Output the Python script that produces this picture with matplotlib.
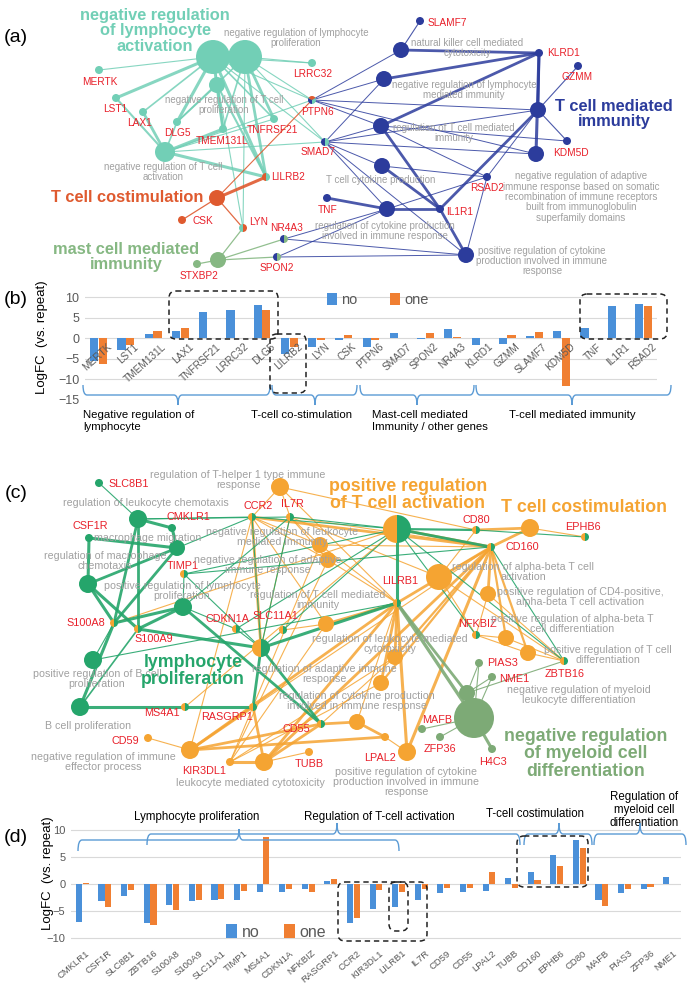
import matplotlib.pyplot as plt
from matplotlib.patches import Circle, Wedge, FancyBboxPatch, PathPatch
from matplotlib.path import Path

plt.rcParams['font.family'] = ['Liberation Sans', 'DejaVu Sans']

W, H = 688, 985

# ---------------- bar data ----------------
genes_b = ["MERTK", "LST1", "TMEM131L", "LAX1", "TNFRSF21", "LRRC32", "DLG5",
           "LILRB2", "LYN", "CSK", "PTPN6", "SMAD7", "SPON2", "NR4A3", "KLRD1",
           "GZMM", "SLAMF7", "KDM5D", "TNF", "IL1R1", "RSAD2"]
no_b = [-5.5, -2.8, 1.1, 1.7, 6.3, 6.9, 8.1, -3.7, -2.2, -0.4, -2.2, 1.4, -0.2,
        2.2, -1.5, -1.4, 0.6, 1.8, 2.6, 7.8, 8.4]
one_b = [-6.2, -1.6, 1.8, 2.5, 0.0, 0.0, 7.0, -2.0, -0.4, 0.9, -0.3, 0.0, 1.3,
         0.4, 0.0, 0.9, 1.6, -11.5, 0.0, 0.0, 7.9]

genes_d = ["CMKLR1", "CSF1R", "SLC8B1", "ZBTB16", "S100A8", "S100A9", "SLC11A1",
           "TIMP1", "MS4A1", "CDKN1A", "NFKBIZ", "RASGRP1", "CCR2", "KIR3DL1",
           "LILRB1", "IL7R", "CD59", "CD55", "LPAL2", "TUBB", "CD160", "EPHB6",
           "CD80", "MAFB", "PIAS3", "ZFP36", "NME1"]
no_d = [-7.0, -3.2, -2.2, -7.35, -3.9, -3.1, -3.05, -2.9, -1.55, -1.5, -0.95,
        0.55, -7.3, -4.7, -4.2, -3.0, -1.6, -1.4, -1.3, 1.05, 2.3, 5.4, 8.15,
        -3.05, -1.75, -1.0, 1.25]
one_d = [0.1, -4.2, -1.2, -7.6, -4.8, -3.0, -2.8, -1.25, 8.7, -1.0, -1.45,
         0.95, -6.35, -1.1, -1.45, -0.95, -0.7, -0.8, 2.3, -0.8, 0.7, 3.3, 6.65,
         -4.05, -0.9, -0.5, -0.05]

groups_b = ["Negative regulation of\nlymphocyte", "T-cell co-stimulation",
            "Mast-cell mediated\nImmunity / other genes", "T-cell mediated immunity"]
groups_d = ["Lymphocyte proliferation", "Regulation of T-cell activation",
            "T-cell costimulation", "Regulation of\nmyeloid cell\ndifferentiation"]

BLUE_BAR = "#4a90d9"
ORANGE_BAR = "#f07f32"
TICK_GREY = "#595959"
GENE_RED = "#e8202a"
TERM_GREY = "#a0a0a0"
BRACE = "#5b9bd5"

TEAL = "#72cfb6"
RED = "#df5a2f"
MASTG = "#86b883"
NAVY = "#2c3c9c"
GREEN = "#25a56b"
ORANGE = "#f5a432"
OLIVE = "#7daa76"

fig = plt.figure(figsize=(W / 100, H / 100), dpi=100)


def px_axes(l, t, r, b, **kw):
    return fig.add_axes([l / W, 1 - b / H, (r - l) / W, (b - t) / H], **kw)


ov = fig.add_axes([0, 0, 1, 1])
ov.set_xlim(0, W)
ov.set_ylim(H, 0)
ov.axis("off")
ov.set_zorder(5)
ov.patch.set_alpha(0)


def draw_nodes(nodes):
    for x, y, r, cols in nodes.values():
        if len(cols) == 1:
            ov.add_patch(Circle((x, y), r, fc=cols[0], ec="none", zorder=3))
        else:
            n = len(cols)
            for k, c in enumerate(cols):
                ov.add_patch(Wedge((x, y), r, 90 + k * 360 / n, 90 + (k + 1) * 360 / n,
                                   fc=c, ec="none", zorder=3))


def draw_edges(nodes, edges, color, alpha=0.9):
    for a, b, w in edges:
        xa, ya = nodes[a][:2]
        xb, yb = nodes[b][:2]
        ov.plot([xa, xb], [ya, yb], color=color, lw=w, alpha=alpha,
                solid_capstyle="round", zorder=2)


def genes(labels, size=7.3):
    for name, (x, y, ha) in labels.items():
        ov.text(x, y, name, color=GENE_RED, fontsize=size, ha=ha, va="center", zorder=4)


def terms(labels, size=7.0):
    for txt, (x, y) in labels.items():
        ov.text(x, y, txt, color=TERM_GREY, fontsize=size, ha="center", va="center",
                linespacing=1.05, zorder=4)


# ---------------- panel (a) network ----------------
nodes_a = {
    "NRLA": (213, 57, 17, [TEAL]), "NRLP": (245, 57, 17, [TEAL]),
    "NRTP": (217, 85, 8, [TEAL]), "NRTA": (165, 152, 10, [TEAL]),
    "MERTK": (99, 70, 4, [TEAL]), "LST1": (116, 98, 4, [TEAL]),
    "LAX1": (143, 112, 4, [TEAL]), "DLG5": (177, 122, 4, [TEAL]),
    "TMEM131L": (223, 129, 4, [TEAL]), "TNFRSF21": (274, 119, 4, [TEAL]),
    "LRRC32": (312, 63, 4, [TEAL]), "PTPN6": (312, 100, 4, [NAVY, RED, TEAL]),
    "SMAD7": (325, 142, 4, [NAVY, TEAL]), "LILRB2": (266, 177, 4, [RED, TEAL]),
    "TCS": (217, 198, 8, [RED]), "CSK": (182, 220, 4, [RED]),
    "LYN": (243, 228, 4, [TEAL, RED]), "MAST": (218, 260, 8, [MASTG]),
    "STXBP2": (197, 264, 4, [MASTG]), "NR4A3": (284, 239, 4, [NAVY, MASTG]),
    "SPON2": (277, 257, 4, [NAVY, MASTG]),
    "SLAMF7": (420, 21, 4, [NAVY]), "NKC": (401, 50, 8, [NAVY]),
    "KLRD1": (539, 53, 4, [NAVY]), "GZMM": (578, 66, 4, [NAVY]),
    "NRLMI": (384, 79, 8, [NAVY]), "TCMI": (538, 110, 8, [NAVY]),
    "RTCMI": (381, 126, 8, [NAVY]), "KDM5D": (567, 141, 4, [NAVY]),
    "NRAIR": (536, 154, 8, [NAVY]), "TCCP": (382, 166, 8, [NAVY]),
    "RSAD2": (487, 177, 4, [NAVY]), "TNF": (327, 198, 4, [NAVY]),
    "RCPI": (387, 209, 8, [NAVY]), "IL1R1": (440, 209, 4, [NAVY]),
    "PRCPI": (466, 255, 8, [NAVY]),
}
teal_edges = [
    ("NRLA", "MERTK", 0.8), ("NRLA", "LST1", 2.2), ("NRLA", "LAX1", 1.2),
    ("NRLA", "DLG5", 2.2), ("NRLA", "TMEM131L", 2.2), ("NRLA", "TNFRSF21", 1.2),
    ("NRLA", "LILRB2", 2.2), ("NRLA", "LRRC32", 0.8), ("NRLA", "PTPN6", 0.8),
    ("NRLA", "SMAD7", 0.8), ("NRLA", "LYN", 0.8),
    ("NRLP", "LRRC32", 0.8), ("NRLP", "PTPN6", 0.8), ("NRLP", "SMAD7", 0.8),
    ("NRLP", "TNFRSF21", 2.0), ("NRLP", "TMEM131L", 1.2), ("NRLP", "LILRB2", 2.0),
    ("NRLP", "LYN", 0.8), ("NRLP", "DLG5", 1.2),
    ("NRTP", "DLG5", 1.2), ("NRTP", "TMEM131L", 1.5), ("NRTP", "LILRB2", 1.5),
    ("NRTA", "LST1", 1.5), ("NRTA", "LAX1", 2.0), ("NRTA", "DLG5", 1.2),
    ("NRTA", "TMEM131L", 2.2), ("NRTA", "TNFRSF21", 0.8), ("NRTA", "LILRB2", 2.2),
    ("NRTA", "PTPN6", 0.8), ("NRTA", "SMAD7", 0.8),
]
red_edges = [("TCS", "LILRB2", 2.2), ("TCS", "PTPN6", 0.8), ("TCS", "CSK", 0.9),
             ("TCS", "LYN", 0.9)]
mast_edges = [("MAST", "LYN", 0.9), ("MAST", "STXBP2", 0.9), ("MAST", "NR4A3", 0.9),
              ("MAST", "SPON2", 0.9)]
navy_edges = [
    ("NKC", "SLAMF7", 0.8), ("NKC", "KLRD1", 2.0), ("NKC", "PTPN6", 0.7),
    ("NRLMI", "KLRD1", 2.0), ("NRLMI", "PTPN6", 0.7), ("NRLMI", "SMAD7", 0.7),
    ("RTCMI", "KLRD1", 2.0), ("RTCMI", "PTPN6", 0.7), ("RTCMI", "SMAD7", 0.7),
    ("RTCMI", "IL1R1", 2.0), ("RTCMI", "RSAD2", 0.7), ("RTCMI", "KDM5D", 0.7),
    ("TCMI", "KLRD1", 2.0), ("TCMI", "GZMM", 0.8), ("TCMI", "KDM5D", 0.8),
    ("TCMI", "IL1R1", 2.0), ("TCMI", "RSAD2", 0.7), ("TCMI", "SMAD7", 0.7),
    ("TCMI", "PTPN6", 0.7), ("NRAIR", "KLRD1", 2.2), ("NRAIR", "PTPN6", 0.7),
    ("NRAIR", "SMAD7", 0.7), ("TCCP", "SMAD7", 0.7), ("TCCP", "IL1R1", 2.0),
    ("TCCP", "RSAD2", 0.7), ("RCPI", "TNF", 2.0), ("RCPI", "IL1R1", 2.0),
    ("RCPI", "SMAD7", 0.7), ("RCPI", "NR4A3", 0.7), ("RCPI", "SPON2", 0.7),
    ("RCPI", "RSAD2", 0.7), ("PRCPI", "IL1R1", 2.0), ("PRCPI", "RSAD2", 0.7),
    ("PRCPI", "NR4A3", 0.7), ("PRCPI", "SPON2", 0.7), ("PRCPI", "SMAD7", 0.7),
]
draw_edges(nodes_a, teal_edges, TEAL, 0.85)
draw_edges(nodes_a, red_edges, RED)
draw_edges(nodes_a, mast_edges, MASTG)
draw_edges(nodes_a, navy_edges, NAVY, 0.85)
draw_nodes(nodes_a)

genes({"MERTK": (100, 82, "center"), "LST1": (115, 109, "center"),
       "LAX1": (140, 123, "center"), "DLG5": (177, 133, "center"),
       "TMEM131L": (222, 141, "center"), "TNFRSF21": (272, 130, "center"),
       "LRRC32": (313, 74, "center"), "PTPN6": (317, 112, "center"),
       "SMAD7": (318, 152, "center"), "LILRB2": (271, 177, "left"),
       "CSK": (203, 221, "center"), "LYN": (249, 222, "left"),
       "NR4A3": (287, 228, "center"), "SPON2": (277, 268, "center"),
       "STXBP2": (199, 276, "center"), "SLAMF7": (428, 23, "left"),
       "KLRD1": (547, 53, "left"), "GZMM": (577, 77, "center"),
       "KDM5D": (571, 153, "center"), "RSAD2": (487, 188, "center"),
       "TNF": (328, 210, "center"), "IL1R1": (446, 212, "left")})
terms({"negative regulation of lymphocyte\nproliferation": (296, 38),
       "negative regulation of T cell\nproliferation": (224, 105),
       "negative regulation of T cell\nactivation": (163, 172),
       "natural killer cell mediated\ncytotoxicity": (467, 48),
       "negative regulation of lymphocyte\nmediated immunity": (464, 90),
       "regulation of T cell mediated\nimmunity": (454, 133),
       "T cell cytokine production": (381, 180),
       "regulation of cytokine production\ninvolved in immune response": (385, 231),
       "negative regulation of adaptive\nimmune response based on somatic\n"
       "recombination of immune receptors\nbuilt from immunoglobulin\n"
       "superfamily domains": (581, 197),
       "positive regulation of cytokine\nproduction involved in immune\nresponse": (542, 261)})

big = dict(fontsize=11.8, fontweight="bold", ha="center", va="center", zorder=4,
           linespacing=1.05)
ov.text(155, 31, "negative regulation\nof lymphocyte\nactivation", color=TEAL, **big)
ov.text(127, 198, "T cell costimulation", color=RED, **big)
ov.text(126, 257, "mast cell mediated\nimmunity", color=MASTG, **big)
ov.text(614, 114, "T cell mediated\nimmunity", color=NAVY, **big)

# ---------------- panel (c) network ----------------
G, O, V = GREEN, ORANGE, OLIVE
nodes_c = {
    "SLC8B1": (99, 483, 4, [G]), "RLC": (138, 519, 9, [G]),
    "CMKLR1": (172, 528, 4, [G]), "CSF1R": (89, 538, 4, [G]),
    "MM": (177, 548, 8, [G]), "RMC": (88, 584, 9, [G]),
    "TIMP1": (184, 574, 4, [O, G]), "PRLP": (183, 607, 9, [G]),
    "S100A8": (114, 623, 4, [O, G]), "S100A9": (138, 629, 4, [O, G]),
    "CDKN1A": (236, 629, 4, [O, G]), "SLC11A1": (283, 630, 4, [O, G]),
    "LP": (261, 648, 9, [O, G]), "PRBP": (93, 660, 9, [G]),
    "BCP": (80, 707, 9, [G]), "MS4A1": (185, 707, 4, [O, G]),
    "RASGRP1": (253, 707, 4, [O, G]), "CD55": (321, 724, 4, [O, G]),
    "CCR2": (252, 517, 4, [O, G]), "IL7R": (290, 517, 4, [O, G]),
    "RTH1": (280, 487, 9, [O]), "NRLMI": (320, 545, 8, [O]),
    "NRAIR": (328, 560, 8, [O]), "RTCMI": (326, 624, 8, [O]),
    "PRTA": (397, 529, 14, [O, G]), "CD80": (476, 530, 4, [O, G]),
    "TCS": (530, 528, 9, [O]), "EPHB6": (585, 537, 4, [O, G]),
    "CD160": (491, 547, 4, [O, G]), "LILRB1": (397, 603, 4, [O, G]),
    "RABT": (439, 577, 13, [O]), "PRCD4": (488, 594, 8, [O]),
    "NFKBIZ": (476, 635, 4, [O, G]), "PRABD": (506, 638, 8, [O]),
    "PRTD": (528, 653, 8, [O]), "ZBTB16": (564, 661, 4, [O, G]),
    "RLMC": (395, 657, 8, [O]), "RAIR": (381, 683, 8, [O]),
    "RCPI": (357, 722, 8, [O]), "LPAL2": (385, 737, 4, [O]),
    "PRCPI": (407, 752, 9, [O]), "CD59": (148, 738, 4, [O]),
    "NRIEP": (190, 750, 9, [O]), "KIR3DL1": (230, 762, 4, [O]),
    "LMC": (264, 762, 9, [O]), "TUBB": (309, 752, 4, [O]),
    "MAFB": (422, 729, 4, [V]), "ZFP36": (440, 737, 4, [V]),
    "H4C3": (492, 749, 4, [V]), "PIAS3": (479, 663, 4, [V]),
    "NME1": (492, 677, 4, [V]), "NRMLD": (467, 693, 8, [V]),
    "NRMCD": (474, 718, 20, [V]),
}
green_edges = [
    ("RLC", "SLC8B1", 0.8), ("RLC", "CMKLR1", 2.2), ("RLC", "S100A8", 2.0),
    ("RLC", "S100A9", 2.0), ("RLC", "CCR2", 0.8), ("CSF1R", "MM", 2.2),
    ("CSF1R", "RMC", 2.2), ("CMKLR1", "MM", 2.2), ("RMC", "MM", 2.0),
    ("RMC", "S100A8", 2.2), ("RMC", "S100A9", 2.2), ("MM", "S100A8", 2.0),
    ("MM", "CCR2", 0.8), ("PRLP", "S100A8", 2.2), ("PRLP", "S100A9", 2.2),
    ("PRLP", "CD55", 2.0), ("PRLP", "TIMP1", 0.8), ("PRLP", "CDKN1A", 0.8),
    ("PRLP", "IL7R", 0.8), ("PRBP", "S100A8", 0.8), ("PRBP", "LILRB1", 0.8),
    ("BCP", "S100A8", 2.2), ("BCP", "MS4A1", 2.2), ("MS4A1", "RASGRP1", 2.2),
    ("BCP", "S100A9", 1.2), ("LP", "S100A9", 2.2), ("LP", "RASGRP1", 2.0),
    ("LP", "LILRB1", 2.2), ("LP", "CCR2", 0.8), ("LP", "IL7R", 0.8),
    ("LP", "CDKN1A", 0.8), ("LP", "SLC11A1", 0.8), ("LP", "TIMP1", 0.8),
    ("LP", "CD55", 2.0), ("PRTA", "CCR2", 0.8), ("PRTA", "IL7R", 0.8),
    ("PRTA", "CD80", 1.6), ("PRTA", "CD160", 2.0), ("PRTA", "LILRB1", 2.2),
    ("PRTA", "NFKBIZ", 0.8), ("PRTA", "ZBTB16", 0.8), ("PRTA", "TIMP1", 0.8),
    ("PRTA", "SLC11A1", 0.8), ("PRTA", "CDKN1A", 0.8), ("CD80", "EPHB6", 0.8),
    ("CD160", "ZBTB16", 0.8), ("TIMP1", "CD160", 0.8), ("RLC", "IL7R", 0.8),
]
orange_edges = [
    ("RTH1", "CCR2", 0.8), ("RTH1", "IL7R", 0.8), ("RTH1", "CD80", 0.8),
    ("RTH1", "LILRB1", 0.8), ("TCS", "CD80", 2.0), ("TCS", "CD160", 2.0),
    ("TCS", "EPHB6", 0.8), ("RABT", "CD80", 0.8), ("RABT", "CD160", 0.8),
    ("RABT", "NFKBIZ", 0.8), ("RABT", "ZBTB16", 0.8), ("RABT", "IL7R", 0.8),
    ("PRCD4", "CD160", 2.0), ("PRCD4", "NFKBIZ", 0.8), ("PRCD4", "ZBTB16", 0.8),
    ("PRABD", "CD160", 1.6), ("PRABD", "NFKBIZ", 0.8), ("PRABD", "ZBTB16", 0.8),
    ("PRTD", "CD160", 1.6), ("PRTD", "NFKBIZ", 0.8), ("PRTD", "ZBTB16", 0.8),
    ("PRTA", "CD160", 2.0), ("CCR2", "CD160", 2.0), ("IL7R", "CD160", 0.8),
    ("NRLMI", "CCR2", 0.8), ("NRLMI", "IL7R", 0.8), ("NRLMI", "LILRB1", 0.8),
    ("NRLMI", "CD160", 0.8), ("NRLMI", "KIR3DL1", 0.8), ("NRAIR", "CCR2", 0.8),
    ("NRAIR", "IL7R", 0.8), ("NRAIR", "LILRB1", 0.8), ("NRAIR", "KIR3DL1", 0.8),
    ("RTCMI", "CCR2", 0.8), ("RTCMI", "LILRB1", 2.0), ("RTCMI", "KIR3DL1", 0.8),
    ("RTCMI", "SLC11A1", 0.8), ("RLMC", "LILRB1", 2.0), ("RLMC", "CD160", 1.6),
    ("RLMC", "KIR3DL1", 0.8), ("RLMC", "CD55", 0.8), ("RAIR", "LILRB1", 2.0),
    ("RAIR", "CD160", 1.6), ("RAIR", "KIR3DL1", 0.8), ("RCPI", "CD55", 2.0),
    ("RCPI", "LPAL2", 2.0), ("RCPI", "LILRB1", 0.8), ("PRCPI", "LILRB1", 2.2),
    ("PRCPI", "CD160", 2.2), ("PRCPI", "LPAL2", 0.8), ("NRIEP", "CD59", 0.8),
    ("NRIEP", "RASGRP1", 2.0), ("NRIEP", "CD55", 2.0), ("NRIEP", "LPAL2", 2.0),
    ("NRIEP", "LILRB1", 2.0), ("NRIEP", "CCR2", 0.8), ("LMC", "KIR3DL1", 2.2),
    ("LMC", "TUBB", 0.8), ("LMC", "RASGRP1", 2.0), ("LMC", "CD55", 2.0),
    ("LMC", "LILRB1", 2.0), ("LMC", "CD160", 2.0), ("LP", "CCR2", 2.0),
    ("LP", "IL7R", 0.8), ("PRTA", "S100A8", 0.8), ("PRTA", "MS4A1", 0.8),
    ("LILRB1", "CD160", 2.0), ("RASGRP1", "CD160", 0.8),
]
olive_edges = [
    ("NRMCD", "LILRB1", 2.4), ("NRMLD", "LILRB1", 2.0), ("NRMCD", "MAFB", 0.8),
    ("NRMCD", "ZFP36", 0.8), ("NRMCD", "H4C3", 2.2), ("NRMCD", "PIAS3", 0.8),
    ("NRMCD", "NME1", 0.8), ("NRMLD", "PIAS3", 0.8), ("NRMLD", "NME1", 0.8),
    ("NRMLD", "ZBTB16", 0.8),
]
draw_edges(nodes_c, orange_edges, ORANGE, 0.85)
draw_edges(nodes_c, green_edges, GREEN, 0.9)
draw_edges(nodes_c, olive_edges, OLIVE, 0.9)
draw_nodes(nodes_c)

genes({"SLC8B1": (108, 484, "left"), "CMKLR1": (188, 517, "center"),
       "CSF1R": (90, 526, "center"), "TIMP1": (183, 566, "center"),
       "S100A8": (86, 623, "center"), "S100A9": (154, 639, "center"),
       "CDKN1A": (228, 619, "center"), "SLC11A1": (275, 616, "center"),
       "MS4A1": (162, 713, "center"), "RASGRP1": (227, 717, "center"),
       "CD55": (296, 729, "center"), "CCR2": (258, 506, "center"),
       "IL7R": (292, 504, "center"), "CD80": (476, 520, "center"),
       "EPHB6": (583, 527, "center"), "CD160": (522, 547, "center"),
       "LILRB1": (400, 581, "center"), "NFKBIZ": (477, 624, "center"),
       "ZBTB16": (565, 674, "center"), "LPAL2": (380, 758, "center"),
       "MAFB": (437, 720, "center"), "ZFP36": (440, 749, "center"),
       "H4C3": (493, 762, "center"), "PIAS3": (487, 663, "left"),
       "NME1": (499, 679, "left"), "CD59": (125, 741, "center"),
       "KIR3DL1": (204, 771, "center"), "TUBB": (309, 764, "center")}, size=7.8)
terms({"regulation of T-helper 1 type immune\nresponse": (238, 480),
       "regulation of leukocyte chemotaxis": (146, 503),
       "macrophage migration": (148, 538),
       "regulation of macrophage\nchemotaxis": (105, 561),
       "positive regulation of lymphocyte\nproliferation": (182, 591),
       "positive regulation of B cell\nproliferation": (97, 679),
       "B cell proliferation": (88, 726),
       "negative regulation of leukocyte\nmediated immunity": (282, 537),
       "negative regulation of adaptive\nimmune response": (268, 565),
       "regulation of T cell mediated\nimmunity": (318, 600),
       "regulation of leukocyte mediated\ncytotoxicity": (390, 644),
       "regulation of adaptive immune\nresponse": (324, 674),
       "regulation of cytokine production\ninvolved in immune response": (357, 701),
       "regulation of alpha-beta T cell\nactivation": (523, 572),
       "positive regulation of CD4-positive,\nalpha-beta T cell activation": (580, 597),
       "positive regulation of alpha-beta T\ncell differentiation": (572, 624),
       "positive regulation of T cell\ndifferentiation": (608, 655),
       "negative regulation of myeloid\nleukocyte differentiation": (579, 695),
       "negative regulation of immune\neffector process": (103, 762),
       "leukocyte mediated cytotoxicity": (250, 783),
       "positive regulation of cytokine\nproduction involved in immune\nresponse": (406, 782)},
      size=7.7)

big["fontsize"] = 12.8
ov.text(408, 495, "positive regulation\nof T cell activation", color=ORANGE, **big)
ov.text(584, 507, "T cell costimulation", color=ORANGE, **big)
ov.text(193, 671, "lymphocyte\nproliferation", color=GREEN, **big)
ov.text(586, 754, "negative regulation\nof myeloid cell\ndifferentiation", color=OLIVE, **big)

for lab, (x, y) in {"(a)": (16, 37), "(b)": (16, 300), "(c)": (16, 493), "(d)": (16, 838)}.items():
    ov.text(x, y, lab, fontsize=14, ha="center", va="center", zorder=4)


# ---------------- helpers for bar panels ----------------
def brace(x1, x2, y, xc, h):
    r = 4
    verts = [(x1, y + h), (x1, y), (x1 + r, y), (xc - r, y), (xc, y), (xc, y - h),
             (xc, y), (xc + r, y), (x2 - r, y), (x2, y), (x2, y + h)]
    codes = [Path.MOVETO, Path.CURVE3, Path.CURVE3, Path.LINETO, Path.CURVE3, Path.CURVE3,
             Path.CURVE3, Path.CURVE3, Path.LINETO, Path.CURVE3, Path.CURVE3]
    ov.add_patch(PathPatch(Path(verts, codes), fc="none", ec=BRACE, lw=1.0, zorder=4))


def dash_box(x1, y1, x2, y2):
    ov.add_patch(FancyBboxPatch((x1, y1), x2 - x1, y2 - y1,
                                boxstyle="round,pad=0,rounding_size=7",
                                fc="none", ec="#222222", lw=1.1, ls=(0, (3.5, 2.5)), zorder=4))


def style_bar_axes(ax, ticks, tick_size):
    for s in ax.spines.values():
        s.set_visible(False)
    ax.set_yticks(ticks)
    ax.yaxis.grid(True, color="#d9d9d9", lw=0.8)
    ax.set_axisbelow(True)
    ax.tick_params(axis="y", length=0, colors=TICK_GREY, labelsize=tick_size, pad=4)


# ---------------- panel (b) bars ----------------
axb = px_axes(85, 289, 657, 400)
xb = range(len(genes_b))
axb.bar([i - 0.16 for i in xb], no_b, width=0.3, color=BLUE_BAR, label="no")
axb.bar([i + 0.16 for i in xb], one_b, width=0.3, color=ORANGE_BAR, label="one")
axb.set_xlim(-0.5, len(genes_b) - 0.5)
axb.set_ylim(-15, 12)
style_bar_axes(axb, [-15, -10, -5, 0, 5, 10], 9)
axb.set_xticks([])
for i, g in enumerate(genes_b):
    axb.text(i + 0.3, -0.8, g, rotation=42, ha="right", va="top", rotation_mode="anchor",
             fontsize=7.2, color=TICK_GREY)
axb.legend(loc="center", bbox_to_anchor=(0.512, 0.9), ncol=2, frameon=False,
           fontsize=10.5, labelcolor=TICK_GREY, handlelength=0.7, handleheight=0.9,
           handletextpad=0.3, columnspacing=2.2)
ov.text(42, 337, "LogFC  (vs. repeat)", rotation=90, fontsize=9.5, ha="center", va="center")

brace(83, 270, 395, 178, -10)
brace(272, 357, 395, 315, -10)
brace(360, 474, 395, 417, -10)
brace(476, 671, 395, 572, -10)
for txt, x in zip(groups_b, [83, 251, 372, 509]):
    ov.text(x, 410, txt, fontsize=8.2, ha="left", va="top", linespacing=1.2)
dash_box(169, 291, 278, 339)
dash_box(270, 334, 306, 393)
dash_box(580, 294, 667, 339)

# ---------------- panel (d) bars ----------------
axd = px_axes(71, 825, 681, 943)
xd = range(len(genes_d))
axd.bar([i - 0.15 for i in xd], no_d, width=0.27, color=BLUE_BAR, label="no")
axd.bar([i + 0.15 for i in xd], one_d, width=0.27, color=ORANGE_BAR, label="one")
axd.set_xlim(-0.5, len(genes_d) - 0.5)
axd.set_ylim(-11, 11)
style_bar_axes(axd, [-10, -5, 0, 5, 10], 8)
axd.set_xticks([i + 0.15 for i in xd])
axd.set_xticklabels(genes_d, rotation=40, ha="right", rotation_mode="anchor",
                    fontsize=6.8, color=TICK_GREY)
axd.tick_params(axis="x", length=0, pad=4)
axd.legend(loc="center", bbox_to_anchor=(0.336, 0.093), ncol=2, frameon=False,
           fontsize=11.5, labelcolor=TICK_GREY, handlelength=0.7, handleheight=0.9,
           handletextpad=0.3, columnspacing=1.5)
ov.text(48, 873, "LogFC  (vs. repeat)", rotation=90, fontsize=9.5, ha="center", va="center")

brace(78, 399, 840, 239, 11)
brace(147, 520, 834, 337, 11)
brace(524, 592, 834, 559, 11)
brace(594, 686, 834, 640, 11)
for txt, (x, y) in zip(groups_d, [(197, 817), (379, 817), (535, 814), (644, 810)]):
    ov.text(x, y, txt, fontsize=8.3, ha="center", va="center", linespacing=1.15)
dash_box(338, 882, 427, 941)
dash_box(389, 882, 408, 931)
dash_box(517, 836, 588, 887)

fig.savefig("out.png", dpi=100)
